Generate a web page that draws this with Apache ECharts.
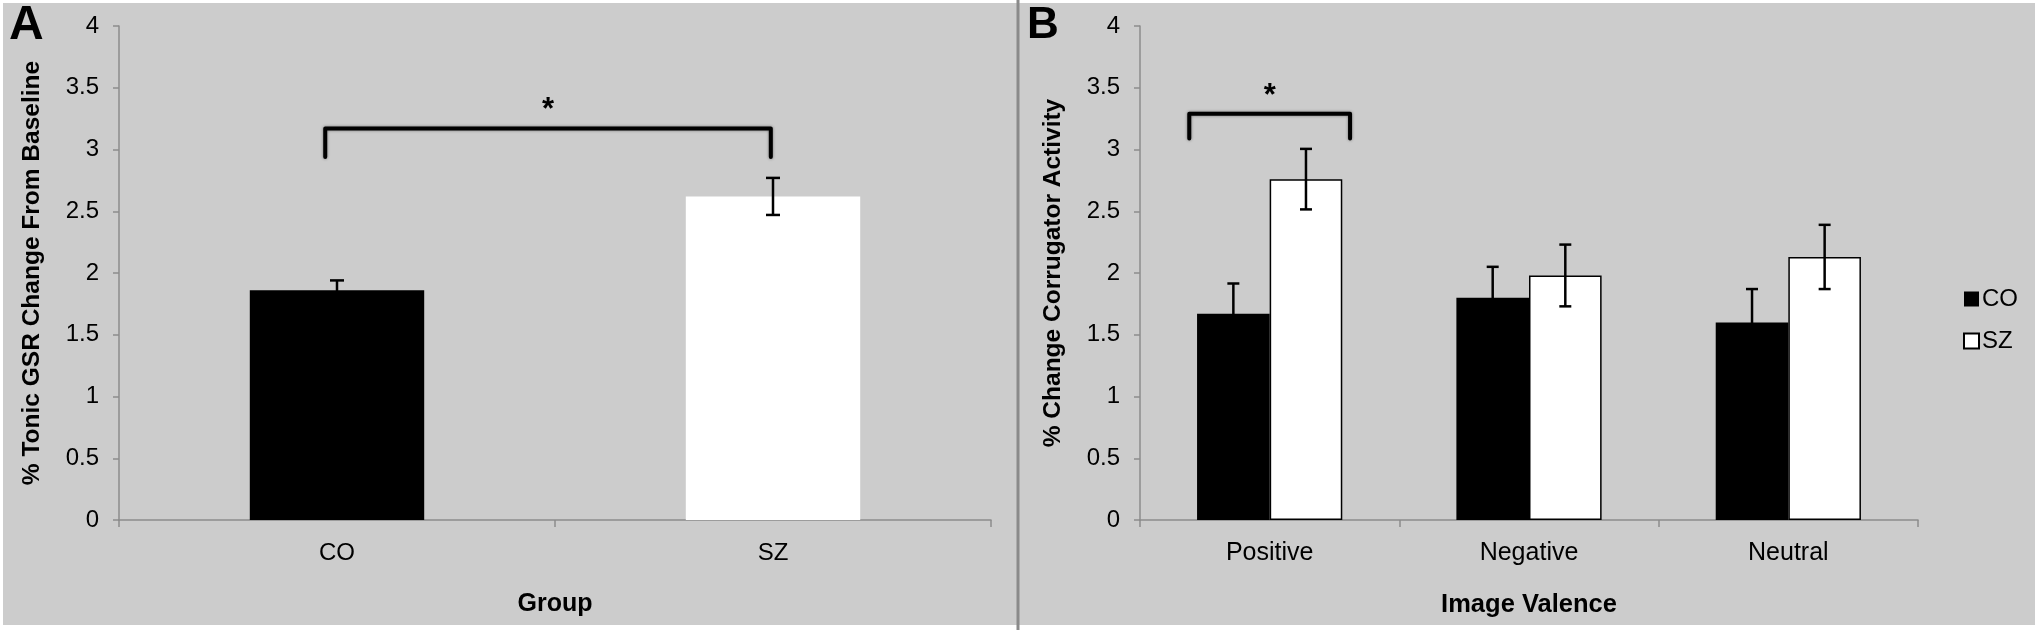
<!DOCTYPE html>
<html>
<head>
<meta charset="utf-8">
<script src="https://cdn.jsdelivr.net/npm/echarts@6/dist/echarts.min.js"></script>
<style>
  html, body { margin: 0; padding: 0; background: #fff; }
  #paper { position: absolute; left: 3px; top: 3px; width: 2032px; height: 622px; background: #cccccc; }
  #chart { position: absolute; left: 0; top: 0; width: 2040px; height: 630px; }
</style>
</head>
<body>
<div id="paper"></div>
<div id="chart"></div>
<script>
// panel A: tonic GSR by group
const groupCats = ['CO', 'SZ'];
const groupMeans = [1.86, 2.62];
const groupErrs = [0.08, 0.15];

// panel B: corrugator activity by image valence
const valenceCats = ['Positive', 'Negative', 'Neutral'];
const coMeans = [1.67, 1.80, 1.60];
const coErrs = [0.245, 0.25, 0.27];
const szMeans = [2.76, 1.98, 2.13];
const szErrs = [0.245, 0.25, 0.26];

// y axis (both panels)
const yMin = 0;
const yMax = 4;
const yStep = 0.5;

// significance brackets: [fromCat, toCat, top, tip, star]
const bracketA = [0, 1, 3.17, 2.94, 3.37];
const bracketB = [0, 0, 3.29, 3.09, 3.49];

const FONT = '"Liberation Sans", Arial, sans-serif';
const AXIS_GRAY = '#8c8c8c';

const errRows = (means, errs) => means.map((m, i) => [i, m - errs[i], m + errs[i]]);

function errorItem(offsetFrac, capHalf) {
  return function (params, api) {
    const band = api.size([1, 0])[0];
    const lo = api.coord([api.value(0), api.value(1)]);
    const hi = api.coord([api.value(0), api.value(2)]);
    const x = lo[0] + offsetFrac * band;
    const style = { stroke: '#000', lineWidth: 2.5 };
    return {
      type: 'group',
      children: [
        { type: 'line', shape: { x1: x, y1: lo[1], x2: x, y2: hi[1] }, style },
        { type: 'line', shape: { x1: x - capHalf, y1: hi[1], x2: x + capHalf, y2: hi[1] }, style },
        { type: 'line', shape: { x1: x - capHalf, y1: lo[1], x2: x + capHalf, y2: lo[1] }, style }
      ]
    };
  };
}

function bracketItem(leftFrac, rightFrac) {
  return function (params, api) {
    const band = api.size([1, 0])[0];
    const a = api.coord([api.value(0), api.value(2)]);
    const b = api.coord([api.value(1), api.value(2)]);
    const tip = api.coord([api.value(0), api.value(3)])[1];
    const star = api.coord([api.value(0), api.value(4)])[1];
    const x1 = a[0] + leftFrac * band;
    const x2 = b[0] + rightFrac * band;
    return {
      type: 'group',
      children: [
        {
          type: 'polyline',
          shape: { points: [[x1, tip], [x1, a[1]], [x2, a[1]], [x2, tip]] },
          style: {
            stroke: '#000', fill: null, lineWidth: 4, lineJoin: 'round', lineCap: 'round',
            shadowBlur: 3, shadowColor: 'rgba(0,0,0,0.45)'
          }
        },
        {
          type: 'text', x: (x1 + x2) / 2, y: star + 7,
          style: { text: '*', font: 'bold 31px ' + FONT, fill: '#000', align: 'center', verticalAlign: 'middle' }
        }
      ]
    };
  };
}

const valueAxis = (gridIndex, name) => ({
  type: 'value', gridIndex, min: yMin, max: yMax, interval: yStep,
  name, nameLocation: 'middle', nameGap: 74,
  nameTextStyle: { fontFamily: FONT, fontWeight: 'bold', fontSize: 24.5, color: '#000' },
  axisLine: { show: true, lineStyle: { color: AXIS_GRAY, width: 1.5 } },
  axisTick: { show: true, length: 6, lineStyle: { color: AXIS_GRAY, width: 1.5 } },
  axisLabel: { fontFamily: FONT, fontSize: 24, color: '#000', margin: 20 },
  splitLine: { show: false }
});

const catAxis = (gridIndex, data, name, labelSize, nameSize) => ({
  type: 'category', gridIndex, data,
  name, nameLocation: 'middle', nameGap: 72,
  nameTextStyle: { fontFamily: FONT, fontWeight: 'bold', fontSize: nameSize, color: '#000' },
  axisLine: { lineStyle: { color: AXIS_GRAY, width: 1.5 } },
  axisTick: { show: true, length: 7, interval: 0, lineStyle: { color: AXIS_GRAY, width: 1.5 } },
  axisLabel: { fontFamily: FONT, fontSize: labelSize, color: '#000', margin: 21 }
});

const chart = echarts.init(document.getElementById('chart'));

chart.setOption({
  animation: false,
  backgroundColor: 'transparent',
  grid: [
    { left: 119, top: 26, width: 872, height: 494 },
    { left: 1140, top: 26, width: 778, height: 494 }
  ],
  xAxis: [
    catAxis(0, groupCats, 'Group', 24, 25),
    catAxis(1, valenceCats, 'Image Valence', 25, 25.5)
  ],
  yAxis: [
    valueAxis(0, '% Tonic GSR Change From Baseline'),
    valueAxis(1, '% Change Corrugator Activity')
  ],
  legend: {
    data: ['CO', 'SZ'],
    orient: 'vertical', left: 1958, top: 282,
    icon: 'rect', itemWidth: 15, itemHeight: 15, itemGap: 18,
    textStyle: { fontFamily: FONT, fontSize: 24, color: '#000', padding: [0, 0, 0, -2] }
  },
  graphic: [
    { type: 'line', shape: { x1: 1018, y1: 0, x2: 1018, y2: 630 }, style: { stroke: '#8a8a8a', lineWidth: 3 } },
    { type: 'text', x: 9, y: 26, style: { text: 'A', font: 'bold 48px ' + FONT, fill: '#000', verticalAlign: 'middle' } },
    { type: 'text', x: 1027, y: 26, style: { text: 'B', font: 'bold 44px ' + FONT, fill: '#000', verticalAlign: 'middle' } }
  ],
  series: [
    {
      name: 'Group', type: 'bar', xAxisIndex: 0, yAxisIndex: 0, barWidth: '40%',
      data: groupMeans.map((v, i) => ({ value: v, itemStyle: { color: i === 0 ? '#000' : '#fff' } }))
    },
    {
      type: 'custom', xAxisIndex: 0, yAxisIndex: 0, z: 5,
      renderItem: errorItem(0, 7), encode: { x: 0, y: [1, 2] },
      data: errRows(groupMeans, groupErrs)
    },
    {
      type: 'custom', xAxisIndex: 0, yAxisIndex: 0, z: 5,
      renderItem: bracketItem(-0.027, -0.005), encode: { x: 0, y: [2, 3, 4] },
      data: [bracketA]
    },
    {
      name: 'CO', type: 'bar', xAxisIndex: 1, yAxisIndex: 1, barWidth: '28%', barGap: '0%',
      itemStyle: { color: '#000' },
      data: coMeans
    },
    {
      name: 'SZ', type: 'bar', xAxisIndex: 1, yAxisIndex: 1, barWidth: '28%', barGap: '0%',
      itemStyle: { color: '#fff', borderColor: '#000', borderWidth: 1.5 },
      data: szMeans
    },
    {
      type: 'custom', xAxisIndex: 1, yAxisIndex: 1, z: 5,
      renderItem: errorItem(-0.14, 6), encode: { x: 0, y: [1, 2] },
      data: errRows(coMeans, coErrs)
    },
    {
      type: 'custom', xAxisIndex: 1, yAxisIndex: 1, z: 5,
      renderItem: errorItem(0.14, 6), encode: { x: 0, y: [1, 2] },
      data: errRows(szMeans, szErrs)
    },
    {
      type: 'custom', xAxisIndex: 1, yAxisIndex: 1, z: 5,
      renderItem: bracketItem(-0.31, 0.31), encode: { x: 0, y: [2, 3, 4] },
      data: [bracketB]
    }
  ]
});
</script>
</body>
</html>
